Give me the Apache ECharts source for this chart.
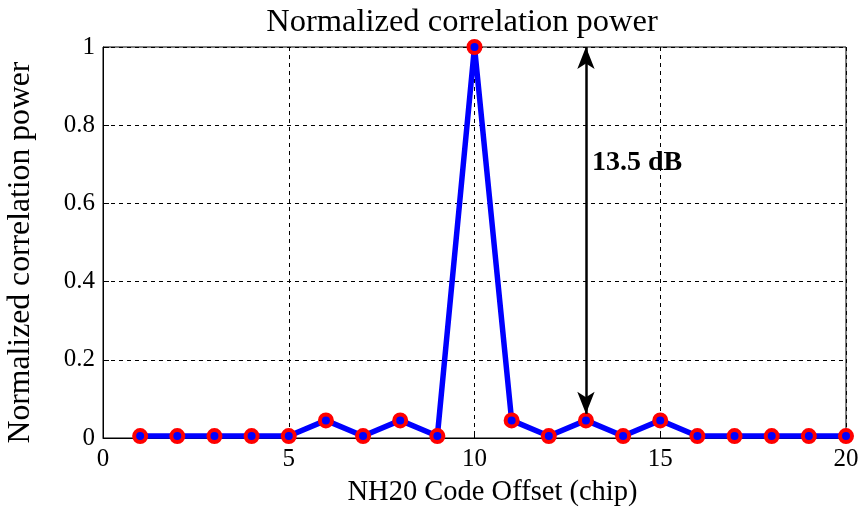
<!DOCTYPE html>
<html>
<head>
<meta charset="utf-8">
<script src="https://cdn.jsdelivr.net/npm/echarts@6/dist/echarts.min.js"></script>
<style>
  html, body { margin: 0; padding: 0; background: #fff; }
  #chart { width: 861px; height: 512px; }
</style>
</head>
<body>
<div id="chart"></div>
<script>
// Code offsets (chips) and normalized correlation power per offset
const offsets = [1, 2, 3, 4, 5, 6, 7, 8, 9, 10, 11, 12, 13, 14, 15, 16, 17, 18, 19, 20];
const power = [0.005, 0.005, 0.005, 0.005, 0.005, 0.045, 0.005, 0.045, 0.005, 1.0,
               0.045, 0.005, 0.045, 0.005, 0.045, 0.005, 0.005, 0.005, 0.005, 0.005];

// Peak-to-sidelobe annotation
const arrowTop = [13, 1.0];
const arrowBottom = [13, 0.062];
const annotation = { pos: [13.15, 0.705], text: '13.5 dB' };

const serif = '"Liberation Serif", "DejaVu Serif", serif';

const chart = echarts.init(document.getElementById('chart'), null, { renderer: 'canvas' });

const baseAxis = {
  type: 'value',
  axisLine: { show: true, onZero: false, lineStyle: { color: '#000', width: 1 } },
  axisTick: { show: true, inside: true, length: 6, lineStyle: { color: '#000' } },
  axisLabel: { color: '#000', fontFamily: serif, fontSize: 25 },
  splitLine: { show: true, lineStyle: { color: '#000', type: [4, 4], width: 1 } }
};

chart.setOption({
  animation: false,
  backgroundColor: '#fff',
  title: {
    text: 'Normalized correlation power',
    left: 457, top: 1, textAlign: 'center',
    textStyle: { fontFamily: serif, fontSize: 32.5, fontWeight: 'normal', color: '#000' }
  },
  grid: {
    left: 103, right: 15, top: 47, bottom: 74,
    outerBoundsMode: 'none',
    containLabel: false,
    show: true, borderColor: '#000', borderWidth: 1, backgroundColor: 'transparent'
  },
  xAxis: Object.assign({}, baseAxis, {
    min: 0, max: 20, interval: 5,
    name: 'NH20 Code Offset (chip)',
    nameLocation: 'middle', nameGap: 40,
    nameTextStyle: { fontFamily: serif, fontSize: 28.5, color: '#000', padding: [0, 0, 0, 36] },
    axisLabel: Object.assign({}, baseAxis.axisLabel, { margin: 9 })
  }),
  yAxis: Object.assign({}, baseAxis, {
    min: 0, max: 1, interval: 0.2,
    name: 'Normalized correlation power',
    nameLocation: 'middle', nameGap: 66,
    nameTextStyle: { fontFamily: serif, fontSize: 31.7, color: '#000', padding: [0, 20, 0, 0] },
    axisLabel: Object.assign({}, baseAxis.axisLabel, {
      margin: 8,
      formatter: v => (v === 0 || v === 1) ? String(v) : String(+v.toFixed(1))
    })
  }),
  series: [
    {
      type: 'line',
      data: offsets.map((x, i) => [x, power[i]]),
      symbol: 'circle',
      symbolSize: 12,
      showAllSymbol: true,
      lineStyle: { color: '#0000ff', width: 5.5 },
      itemStyle: { color: '#0000ff', borderColor: '#ff0000', borderWidth: 4 },
      z: 3,
      markLine: {
        silent: true,
        symbol: ['arrow', 'arrow'],
        symbolSize: [13, 22],
        precision: 3,
        label: { show: false },
        lineStyle: { color: '#000', width: 2.5, type: 'solid' },
        data: [[{ coord: arrowBottom }, { coord: arrowTop }]]
      }
    },
    {
      type: 'scatter',
      data: [annotation.pos],
      symbol: 'circle',
      symbolSize: 1,
      itemStyle: { color: 'transparent', opacity: 1 },
      silent: true,
      z: 5,
      label: {
        show: true, position: 'right', distance: 0,
        formatter: annotation.text,
        fontFamily: serif, fontSize: 28, fontWeight: 'bold', color: '#000'
      }
    }
  ]
});
</script>
</body>
</html>
